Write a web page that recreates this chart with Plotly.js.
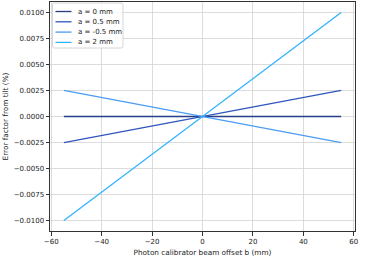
<!DOCTYPE html>
<html>
<head>
<meta charset="utf-8">
<script src="https://cdn.plot.ly/plotly-3.0.1.min.js"></script>
<style>html,body{margin:0;padding:0;background:#fff;}#chart{width:375px;height:265px;}</style>
</head>
<body>
<div id="chart"></div>
<script>
// Beam offset b (mm)
const offsets = [-55, 0, 55];
// Error factor from tilt (%) for each a
const err_a0 = [0, 0, 0];
const err_a05 = [-0.0025, 0, 0.0025];
const err_am05 = [0.0025, 0, -0.0025];
const err_a2 = [-0.01, 0, 0.01];
const seriesNames = ['a = 0 mm', 'a = 0.5 mm', 'a = -0.5 mm', 'a = 2 mm'];
const seriesValues = [err_a0, err_a05, err_am05, err_a2];
const seriesColors = ['#263f86', '#2f55bd', '#4b9cf5', '#33b2ff'];
const yTicks = [-0.01, -0.0075, -0.005, -0.0025, 0, 0.0025, 0.005, 0.0075, 0.01];
const xTicks = [-60, -40, -20, 0, 20, 40, 60];

const traces = seriesValues.map((v, i) => ({
  x: offsets, y: v, name: seriesNames[i], mode: 'lines', type: 'scatter',
  line: {color: seriesColors[i], width: 1.3}
}));

const font = {family: 'DejaVu Sans', size: 7, color: '#222'};
const tfont = {family: 'DejaVu Sans', size: 7.3, color: '#222'};

// plot area geometry (pixels) for a compact legend
const L = 50, T = 2, W = 375 - 50 - 20, H = 265 - 2 - 34;
const px = x => (x - L) / W;
const py = y => 1 - (y - T) / H;
const shapes = [];
const annotations = [];
// legend frame (rounded)
const bx0 = 52.5, bx1 = 123, by0 = 3, by1 = 48, r = 2;
shapes.push({type: 'path', xref: 'paper', yref: 'paper',
  path: (() => {
    const X = v => px(v), Y = v => py(v);
    return `M${X(bx0 + r)},${Y(by0)} L${X(bx1 - r)},${Y(by0)} Q${X(bx1)},${Y(by0)} ${X(bx1)},${Y(by0 + r)} ` +
      `L${X(bx1)},${Y(by1 - r)} Q${X(bx1)},${Y(by1)} ${X(bx1 - r)},${Y(by1)} L${X(bx0 + r)},${Y(by1)} ` +
      `Q${X(bx0)},${Y(by1)} ${X(bx0)},${Y(by1 - r)} L${X(bx0)},${Y(by0 + r)} Q${X(bx0)},${Y(by0)} ${X(bx0 + r)},${Y(by0)} Z`;
  })(),
  line: {color: '#cccccc', width: 0.8}, fillcolor: 'rgba(255,255,255,0.85)', layer: 'above'});
seriesNames.forEach((n, i) => {
  const yy = 11.5 + i * 10.3;
  shapes.push({type: 'line', xref: 'paper', yref: 'paper', x0: px(55.5), x1: px(71.5), y0: py(yy), y1: py(yy),
    line: {color: seriesColors[i], width: 1.3}, layer: 'above'});
  annotations.push({xref: 'paper', yref: 'paper', x: px(76), y: py(yy), xanchor: 'left', yanchor: 'middle',
    text: n, showarrow: false, font: font});
});

const layout = {
  width: 375, height: 265,
  margin: {l: 50, r: 20, t: 2, b: 34},
  paper_bgcolor: '#fff', plot_bgcolor: '#fff',
  font: font,
  showlegend: false,
  shapes: shapes,
  annotations: annotations,
  xaxis: {
    range: [-60.5, 60.5], tickvals: xTicks, ticks: 'outside', ticklen: 3.5, tickcolor: '#333',
    showgrid: true, gridcolor: '#d3d3d3', gridwidth: 0.8, zeroline: false,
    showline: true, linecolor: '#333', linewidth: 1, mirror: true,
    title: {text: 'Photon calibrator beam offset b (mm)', font: tfont, standoff: 4},
    tickfont: font
  },
  yaxis: {
    range: [-0.011, 0.011], tickvals: yTicks, tickformat: '.4f', ticks: 'outside', ticklen: 3.5, tickcolor: '#333',
    showgrid: true, gridcolor: '#d3d3d3', gridwidth: 0.8, zeroline: false,
    showline: true, linecolor: '#333', linewidth: 1, mirror: true,
    title: {text: 'Error factor from tilt (%)', font: tfont, standoff: 4},
    tickfont: font
  }
};
Plotly.newPlot('chart', traces, layout, {displayModeBar: false, staticPlot: true});
</script>
</body>
</html>
